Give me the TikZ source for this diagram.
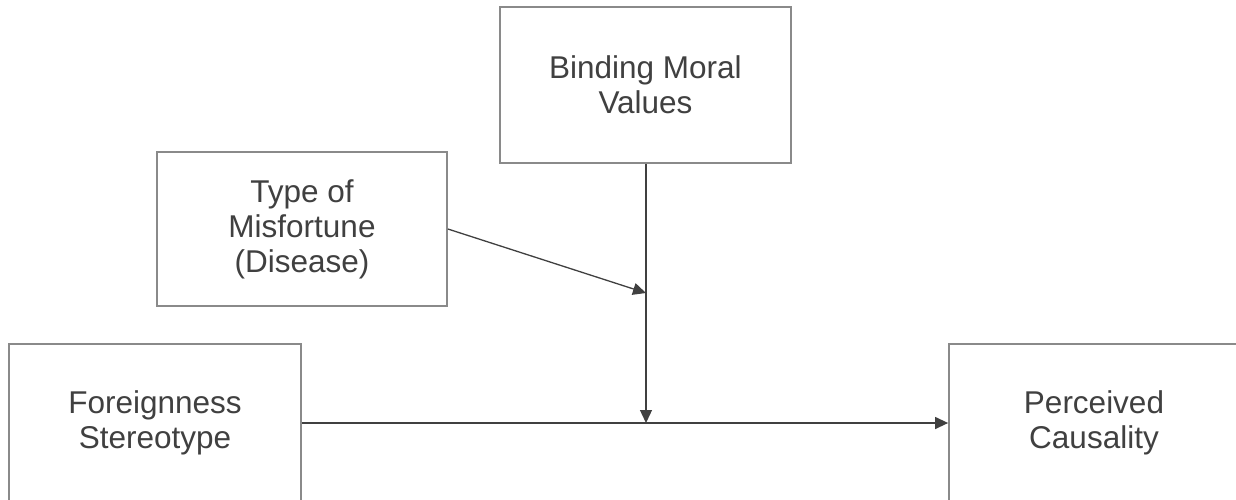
\documentclass[tikz,border=0pt]{standalone}
\usepackage{fontspec}
\setmainfont{Liberation Sans}
\usetikzlibrary{arrows.meta}
\definecolor{boxgray}{HTML}{8A8A8A}
\definecolor{txtgray}{HTML}{404040}
\begin{document}
\begin{tikzpicture}[x=1pt,y=-1pt,
  box/.style={draw=boxgray, line width=1.8pt, fill=white, align=center, text=txtgray,
    font=\fontsize{31.5}{35}\selectfont, inner sep=0pt},
  conn/.style={draw=txtgray, line width=1.3pt},
  arr/.style={conn, -{Triangle[length=13pt,width=12pt]}}]
\useasboundingbox (0,0) rectangle (1236,499);
\clip (0,0) rectangle (1236,499);
\node[box, minimum width=291pt, minimum height=156pt] (bind) at (645.5,85) {Binding Moral\\Values};
\node[box, minimum width=290pt, minimum height=154pt] (type) at (302,229) {Type of\\Misfortune\\(Disease)};
\node[box, minimum width=292pt, minimum height=158pt] (fore) at (155,423) {Foreignness\\Stereotype};
\node[box, minimum width=290pt, minimum height=158pt] (perc) at (1094,423) {Perceived\\Causality};
\coordinate (mid) at (646,423);
\coordinate (tmid) at (646,293);
\draw[conn] (fore.east) -- (mid);
\draw[arr] (mid) -- (perc.west);
\draw[arr] (bind.south -| mid) -- (mid);
\draw[arr] (type.east) -- (tmid);
\end{tikzpicture}
\end{document}
